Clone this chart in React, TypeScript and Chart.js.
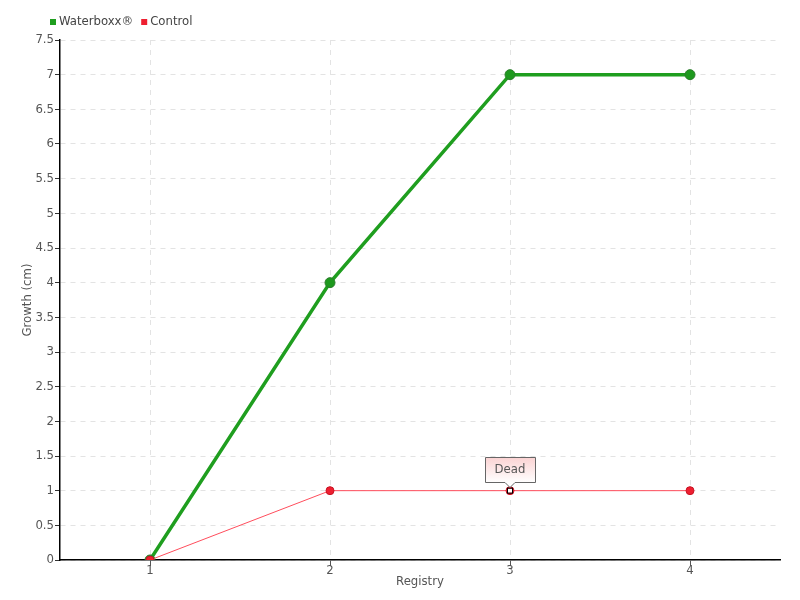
import React, { useEffect, useRef } from "react";
import { Chart, registerables } from "chart.js";

Chart.register(...registerables);

const registries = ["1", "2", "3", "4"];
const waterboxxGrowth = [0, 4, 7, 7];
const controlGrowth = [0, 1, 1, 1];
const noteIndex = 2;
const noteText = "Dead";

const FONT = "'DejaVu Sans Condensed', 'Liberation Sans Narrow', sans-serif";
const GREEN = "#1f9e1f";
const RED = "#ee1f30";

const legendPlugin = {
  id: "topLegend",
  afterDraw(chart: any) {
    const ctx = chart.ctx;
    ctx.save();
    ctx.font = `13px ${FONT}`;
    ctx.textBaseline = "middle";
    const items = [
      { label: "Waterboxx®", color: GREEN },
      { label: "Control", color: RED },
    ];
    let x = 50;
    const y = 22;
    items.forEach((it) => {
      ctx.fillStyle = it.color;
      ctx.fillRect(x, y - 3, 6, 6);
      x += 9;
      ctx.fillStyle = "#444";
      ctx.textAlign = "left";
      ctx.fillText(it.label, x, y);
      x += ctx.measureText(it.label).width + 8;
    });
    ctx.restore();
  },
};

const notePlugin = {
  id: "deadNote",
  afterDatasetsDraw(chart: any) {
    const meta = chart.getDatasetMeta(1);
    const pt = meta.data[noteIndex];
    if (!pt) return;
    const ctx = chart.ctx;
    const px = pt.x;
    const py = pt.y;
    ctx.save();
    // marker
    ctx.fillStyle = "#fff";
    ctx.strokeStyle = "#000";
    ctx.lineWidth = 1;
    ctx.fillRect(px - 2, py - 2, 4, 4);
    ctx.strokeRect(px - 2.5, py - 2.5, 5, 5);
    // callout box
    const w = 50;
    const h = 25;
    const left = Math.round(px - w / 2) + 0.5;
    const top = Math.round(py - 34) + 0.5;
    const bottom = top + h;
    const grad = ctx.createLinearGradient(0, top, 0, bottom);
    grad.addColorStop(0, "#fbd3d3");
    grad.addColorStop(1, "#ffffff");
    ctx.beginPath();
    ctx.moveTo(left, top);
    ctx.lineTo(left + w, top);
    ctx.lineTo(left + w, bottom);
    ctx.lineTo(px + 5, bottom);
    ctx.lineTo(px, bottom + 5);
    ctx.lineTo(px - 5, bottom);
    ctx.lineTo(left, bottom);
    ctx.closePath();
    ctx.fillStyle = grad;
    ctx.fill();
    ctx.strokeStyle = "#666";
    ctx.stroke();
    ctx.fillStyle = "#555";
    ctx.font = `13px ${FONT}`;
    ctx.textAlign = "center";
    ctx.textBaseline = "middle";
    ctx.fillText(noteText, px, top + h / 2);
    ctx.restore();
  },
};

export default function App() {
  const ref = useRef<HTMLCanvasElement>(null);
  useEffect(() => {
    if (!ref.current) return;
    const chart = new Chart(ref.current, {
      type: "line",
      data: {
        labels: registries,
        datasets: [
          {
            label: "Waterboxx®",
            data: waterboxxGrowth,
            borderColor: GREEN,
            backgroundColor: GREEN,
            pointBackgroundColor: "#1e991e",
            pointBorderColor: "#2b7d2b",
            borderWidth: 3.5,
            pointRadius: 5,
            pointBorderWidth: 1,
            order: 1,
          },
          {
            label: "Control",
            data: controlGrowth,
            borderColor: "#ff4d5c",
            backgroundColor: RED,
            pointBackgroundColor: RED,
            pointBorderColor: "#c81424",
            borderWidth: 1,
            pointRadius: 4,
            pointBorderWidth: 1,
            order: 0,
          },
        ],
      },
      options: {
        animation: false,
        responsive: true,
        maintainAspectRatio: false,
        layout: { padding: { left: 18, right: 20, top: 40, bottom: 0 } },
        plugins: {
          legend: { display: false },
          tooltip: { enabled: false },
        },
        scales: {
          x: {
            offset: true,
            afterFit: (s: any) => {
              s.height = 40;
            },
            border: { color: "#000", width: 1.5, dash: [5, 5] },
            grid: {
              color: "#e3e3e3",
              tickColor: "#555",
              tickLength: 6,
              tickBorderDash: [],
              lineWidth: 1,
            },
            ticks: { color: "#555", font: { family: FONT, size: 13 }, padding: -3 },
            title: {
              display: true,
              text: "Registry",
              color: "#555",
              font: { family: FONT, size: 13 },
              padding: { top: 0, bottom: 11 },
            },
          },
          y: {
            min: 0,
            max: 7.5,
            afterFit: (s: any) => {
              s.width = 42;
            },
            border: { color: "#000", width: 1.5, dash: [5, 5] },
            grid: {
              color: "#e3e3e3",
              tickColor: "#333",
              tickLength: 5,
              tickBorderDash: [],
            },
            ticks: {
              stepSize: 0.5,
              color: "#555",
              font: { family: FONT, size: 13 },
              padding: 1,
              callback: (v: any) => String(v),
            },
            title: {
              display: true,
              text: "Growth (cm)",
              color: "#555",
              font: { family: FONT, size: 13 },
              padding: { top: 2, bottom: 0 },
            },
          },
        },
      },
      plugins: [legendPlugin, notePlugin],
    });
    return () => chart.destroy();
  }, []);
  return (
    <div style={{ position: "fixed", left: 0, top: 0, width: 800, height: 600, background: "#fff" }}>
      <canvas ref={ref} />
    </div>
  );
}
